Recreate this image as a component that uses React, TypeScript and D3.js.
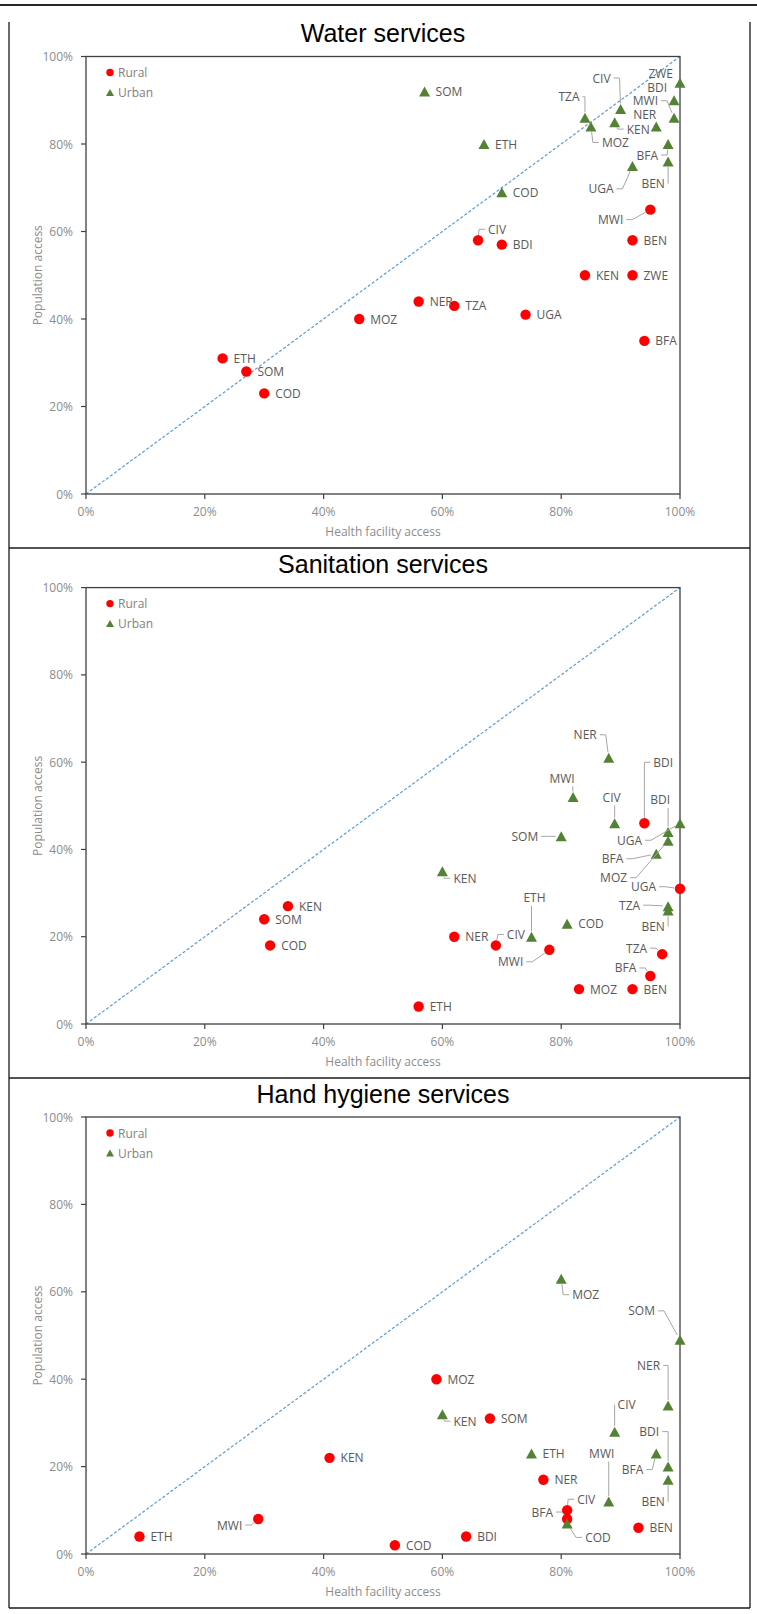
import React from 'react';
import * as d3 from 'd3';

// ---------- data ----------
const axisTicks = [0, 20, 40, 60, 80, 100];
const panelTitles = ['Water services', 'Sanitation services', 'Hand hygiene services'];
const xAxisTitle = 'Health facility access';
const yAxisTitle = 'Population access';
const seriesNames = ['Rural', 'Urban'];

const waterRuralCountries = ['ETH', 'SOM', 'COD', 'MOZ', 'NER', 'TZA', 'UGA', 'CIV', 'BDI', 'KEN', 'ZWE', 'BEN', 'MWI', 'BFA'];
const waterRuralFacility = [23, 27, 30, 46, 56, 62, 74, 66, 70, 84, 92, 92, 95, 94];
const waterRuralPopulation = [31, 28, 23, 40, 44, 43, 41, 58, 57, 50, 50, 58, 65, 35];
const waterUrbanCountries = ['SOM', 'ETH', 'COD', 'TZA', 'MOZ', 'CIV', 'KEN', 'NER', 'ZWE', 'BDI', 'MWI', 'BFA', 'BEN', 'UGA'];
const waterUrbanFacility = [57, 67, 70, 84, 85, 90, 89, 96, 100, 99, 99, 98, 98, 92];
const waterUrbanPopulation = [92, 80, 69, 86, 84, 88, 85, 84, 94, 90, 86, 80, 76, 75];

const sanitationRuralCountries = ['KEN', 'SOM', 'COD', 'NER', 'CIV', 'MWI', 'ETH', 'MOZ', 'BEN', 'BFA', 'TZA', 'UGA', 'BDI'];
const sanitationRuralFacility = [34, 30, 31, 62, 69, 78, 56, 83, 92, 95, 97, 100, 94];
const sanitationRuralPopulation = [27, 24, 18, 20, 18, 17, 4, 8, 8, 11, 16, 31, 46];
const sanitationUrbanCountries = ['NER', 'MWI', 'CIV', 'SOM', 'UGA', 'BDI', 'MOZ', 'BFA', 'KEN', 'TZA', 'BEN', 'ETH', 'COD'];
const sanitationUrbanFacility = [88, 82, 89, 80, 100, 98, 98, 96, 60, 98, 98, 75, 81];
const sanitationUrbanPopulation = [61, 52, 46, 43, 46, 44, 42, 39, 35, 27, 26, 20, 23];

const hygieneRuralCountries = ['MOZ', 'KEN', 'SOM', 'NER', 'CIV', 'BFA', 'BEN', 'BDI', 'COD', 'MWI', 'ETH'];
const hygieneRuralFacility = [59, 41, 68, 77, 81, 81, 93, 64, 52, 29, 9];
const hygieneRuralPopulation = [40, 22, 31, 17, 10, 8, 6, 4, 2, 8, 4];
const hygieneUrbanCountries = ['MOZ', 'SOM', 'NER', 'CIV', 'BFA', 'BDI', 'BEN', 'MWI', 'ETH', 'KEN', 'COD'];
const hygieneUrbanFacility = [80, 100, 98, 89, 96, 98, 98, 88, 75, 60, 81];
const hygieneUrbanPopulation = [63, 49, 34, 28, 23, 20, 17, 12, 23, 32, 7];

// ---------- label placement (annotation layout, px offsets from marker) ----------
type LabelSpec = [string, number, number, boolean];
const waterLabels: Record<string, LabelSpec> = {
  'R:CIV': ['start', 10, -11, true],
  'R:MWI': ['end', -27, 10, true],
  'U:TZA': ['middle', -16, -21, true],
  'U:MOZ': ['start', 11, 16, true],
  'U:CIV': ['end', -10, -31, true],
  'U:KEN': ['start', 12, 7, true],
  'U:NER': ['end', 0, -12, false],
  'U:MWI': ['end', -16, -17, true],
  'U:BDI': ['end', -7, -13, false],
  'U:ZWE': ['end', -7, -9, false],
  'U:BFA': ['end', -10, 11, true],
  'U:BEN': ['middle', -15, 22, true],
  'U:UGA': ['end', -19, 23, true],
};
const sanitationLabels: Record<string, LabelSpec> = {
  'R:CIV': ['start', 11, -11, true],
  'R:MWI': ['end', -26, 12, true],
  'R:BDI': ['start', 9, -61, true],
  'R:UGA': ['end', -24, -2, true],
  'R:TZA': ['end', -15, -6, true],
  'R:BFA': ['end', -14, -8, true],
  'U:NER': ['end', -12, -23, true],
  'U:MWI': ['middle', -11, -19, true],
  'U:CIV': ['middle', -3, -26, true],
  'U:SOM': ['end', -23, 0, true],
  'U:BDI': ['middle', -8, -32, true],
  'U:UGA': ['end', -38, 17, true],
  'U:MOZ': ['end', -41, 37, true],
  'U:BFA': ['end', -33, 5, true],
  'U:KEN': ['start', 11, 7, true],
  'U:TZA': ['end', -28, -1, true],
  'U:BEN': ['middle', -15, 16, true],
  'U:ETH': ['middle', 3, -39, true],
};
const hygieneLabels: Record<string, LabelSpec> = {
  'U:MOZ': ['start', 11, 16, true],
  'U:SOM': ['end', -25, -29, true],
  'U:NER': ['end', -8, -40, true],
  'U:CIV': ['middle', 12, -27, true],
  'U:BDI': ['end', -9, -35, true],
  'U:BFA': ['end', -13, 16, true],
  'U:BEN': ['middle', -15, 22, true],
  'U:MWI': ['middle', -7, -48, true],
  'U:KEN': ['start', 11, 7, true],
  'U:COD': ['start', 18, 14, true],
  'R:CIV': ['start', 10, -11, true],
  'R:BFA': ['end', -14, -7, true],
  'R:MWI': ['end', -16, 6, true],
};

// ---------- layout ----------
const W = 757;
const H = 1614;
const plotLeft = 86;
const plotRight = 680;
const panelLeft = 9;
const panelRight = 750;
const panels = [
  { top: 22, bottom: 548, plotTop: 56.5, plotBottom: 494 },
  { top: 548, bottom: 1078, plotTop: 587.6, plotBottom: 1024 },
  { top: 1078, bottom: 1608, plotTop: 1117, plotBottom: 1554 },
];
const FONT = "'Open Sans', 'Noto Sans', sans-serif";
const RED = '#ff0000';
const GREEN = '#548235';

const charW: Record<string, number> = {
  A: 0.63, B: 0.65, C: 0.63, D: 0.73, E: 0.56, F: 0.52, G: 0.72, H: 0.74, I: 0.28, K: 0.62,
  L: 0.52, M: 0.9, N: 0.76, O: 0.78, Q: 0.78, R: 0.63, S: 0.55, T: 0.56, U: 0.73, V: 0.6, W: 0.93, Z: 0.57,
};
const textW = (s: string) => s.split('').reduce((a, c) => a + (charW[c] ?? 0.6) * 12, 0);

function leaderPath(px: number, py: number, lx: number, ly: number, anchor: string, w: number) {
  const left = anchor === 'start' ? lx : anchor === 'end' ? lx - w : lx - w / 2;
  const right = left + w;
  const pts: [number, number][] = [];
  if (px >= left - 2 && px <= right + 2) {
    const sx = Math.max(left + 2, Math.min(right - 2, px));
    const sy = py > ly ? ly + 8 : ly - 8;
    pts.push([sx, sy]);
  } else if (px > right) {
    const sx = right + 3;
    const stub = Math.max(0, Math.min(6, px - sx));
    pts.push([sx, ly], [sx + stub, ly]);
  } else {
    const sx = left - 3;
    const stub = Math.max(0, Math.min(6, sx - px));
    pts.push([sx, ly], [sx - stub, ly]);
  }
  const [ax, ay] = pts[pts.length - 1];
  const dx = px - ax;
  const dy = py - ay;
  const d = Math.hypot(dx, dy);
  if (d > 6) pts.push([px - (dx / d) * 5.5, py - (dy / d) * 5.5]);
  return d3.line()(pts) || '';
}

const triPath = (w: number, h: number) => `M0,${-h / 2}L${w / 2},${h / 2}L${-w / 2},${h / 2}Z`;

interface Series {
  key: string;
  countries: string[];
  fx: number[];
  py: number[];
}

function Panel({ index, series, labels }: { index: number; series: Series[]; labels: Record<string, LabelSpec> }) {
  const p = panels[index];
  const x = d3.scaleLinear().domain([0, 100]).range([plotLeft, plotRight]);
  const y = d3.scaleLinear().domain([0, 100]).range([p.plotBottom, p.plotTop]);
  const fmt = (v: number) => `${v}%`;
  const labelColor = '#595959';

  const points = series.flatMap((s) =>
    s.countries.map((c, i) => ({ key: s.key, c, cx: x(s.fx[i]), cy: y(s.py[i]) }))
  );

  return (
    <g>
      {/* panel frame */}
      <line x1={panelLeft} x2={panelLeft} y1={p.top} y2={p.bottom} stroke="#1a1a1a" strokeWidth={1.3} />
      <line x1={panelRight} x2={panelRight} y1={p.top} y2={p.bottom} stroke="#1a1a1a" strokeWidth={1.3} />
      <line x1={panelLeft} x2={panelRight} y1={p.bottom} y2={p.bottom} stroke="#1a1a1a" strokeWidth={1.3} />

      {/* title */}
      <text x={(plotLeft + plotRight) / 2} y={p.plotTop - 23.5} textAnchor="middle" dominantBaseline="central"
        fontFamily="'Liberation Sans', Arial, sans-serif" fontSize={25} fill="#000">
        {panelTitles[index]}
      </text>

      {/* diagonal reference */}
      <line x1={x(0)} y1={y(0)} x2={x(100)} y2={y(100)} stroke="#5b9bd5" strokeWidth={1.2} strokeDasharray="3 2" />

      {/* plot frame */}
      <rect x={plotLeft} y={p.plotTop} width={plotRight - plotLeft} height={p.plotBottom - p.plotTop}
        fill="none" stroke="#404040" strokeWidth={1.3} />

      {/* y ticks */}
      {axisTicks.map((t) => (
        <g key={'y' + t}>
          <line x1={plotLeft - 5} x2={plotLeft} y1={y(t)} y2={y(t)} stroke="#404040" strokeWidth={1.2} />
          <text x={73} y={y(t)} textAnchor="end" dominantBaseline="central" fontFamily={FONT} fontSize={12} fill="#8c8c8c">
            {fmt(t)}
          </text>
        </g>
      ))}
      {/* x ticks */}
      {axisTicks.map((t) => (
        <g key={'x' + t}>
          <line x1={x(t)} x2={x(t)} y1={p.plotBottom} y2={p.plotBottom + 5} stroke="#404040" strokeWidth={1.2} />
          <text x={x(t)} y={p.plotBottom + 17} textAnchor="middle" dominantBaseline="central" fontFamily={FONT} fontSize={12} fill="#8c8c8c">
            {fmt(t)}
          </text>
        </g>
      ))}
      <text x={(plotLeft + plotRight) / 2} y={p.plotBottom + 37} textAnchor="middle" dominantBaseline="central"
        fontFamily={FONT} fontSize={12} fill="#8c8c8c">{xAxisTitle}</text>
      <text transform={`translate(37,${(p.plotTop + p.plotBottom) / 2}) rotate(-90)`} textAnchor="middle" dominantBaseline="central"
        fontFamily={FONT} fontSize={12} fill="#8c8c8c">{yAxisTitle}</text>

      {/* legend */}
      <circle cx={110} cy={p.plotTop + 16} r={3.7} fill={RED} />
      <text x={118} y={p.plotTop + 16} dominantBaseline="central" fontFamily={FONT} fontSize={12} fill="#7f7f7f">{seriesNames[0]}</text>
      <path d={triPath(8, 7)} transform={`translate(110,${p.plotTop + 36})`} fill={GREEN} />
      <text x={118} y={p.plotTop + 36} dominantBaseline="central" fontFamily={FONT} fontSize={12} fill="#7f7f7f">{seriesNames[1]}</text>

      {/* markers */}
      {points.map((d) =>
        d.key === 'R' ? (
          <circle key={'m' + d.key + d.c} cx={d.cx} cy={d.cy} r={5.2} fill={RED} />
        ) : (
          <path key={'m' + d.key + d.c} d={triPath(11, 10)} transform={`translate(${d.cx},${d.cy})`} fill={GREEN} />
        )
      )}

      {/* labels + leaders */}
      {points.map((d) => {
        const spec = labels[`${d.key}:${d.c}`] || ['start', 11, 0, false];
        const [anchor, dx, dy, leader] = spec;
        const lx = d.cx + dx;
        const ly = d.cy + dy;
        return (
          <g key={'l' + d.key + d.c}>
            {leader && (
              <path d={leaderPath(d.cx, d.cy, lx, ly, anchor, textW(d.c))} fill="none" stroke="#a6a6a6" strokeWidth={1} />
            )}
            <text x={lx} y={ly} textAnchor={anchor as any} dominantBaseline="central" fontFamily={FONT} fontSize={12} fill={labelColor}>
              {d.c}
            </text>
          </g>
        );
      })}
    </g>
  );
}

export default function App() {
  const panelData: { series: Series[]; labels: Record<string, LabelSpec> }[] = [
    {
      series: [
        { key: 'R', countries: waterRuralCountries, fx: waterRuralFacility, py: waterRuralPopulation },
        { key: 'U', countries: waterUrbanCountries, fx: waterUrbanFacility, py: waterUrbanPopulation },
      ],
      labels: waterLabels,
    },
    {
      series: [
        { key: 'R', countries: sanitationRuralCountries, fx: sanitationRuralFacility, py: sanitationRuralPopulation },
        { key: 'U', countries: sanitationUrbanCountries, fx: sanitationUrbanFacility, py: sanitationUrbanPopulation },
      ],
      labels: sanitationLabels,
    },
    {
      series: [
        { key: 'R', countries: hygieneRuralCountries, fx: hygieneRuralFacility, py: hygieneRuralPopulation },
        { key: 'U', countries: hygieneUrbanCountries, fx: hygieneUrbanFacility, py: hygieneUrbanPopulation },
      ],
      labels: hygieneLabels,
    },
  ];
  return (
    <div style={{ position: 'absolute', left: 0, top: 0, width: W, height: H, background: '#fff' }}>
      <svg width={W} height={H} viewBox={`0 0 ${W} ${H}`} style={{ display: 'block' }}>
        <rect width={W} height={H} fill="#fff" />
        <line x1={0} x2={W} y1={5} y2={5} stroke="#262626" strokeWidth={2} />
        {panelData.map((pd, i) => (
          <Panel key={i} index={i} series={pd.series} labels={pd.labels} />
        ))}
      </svg>
    </div>
  );
}
